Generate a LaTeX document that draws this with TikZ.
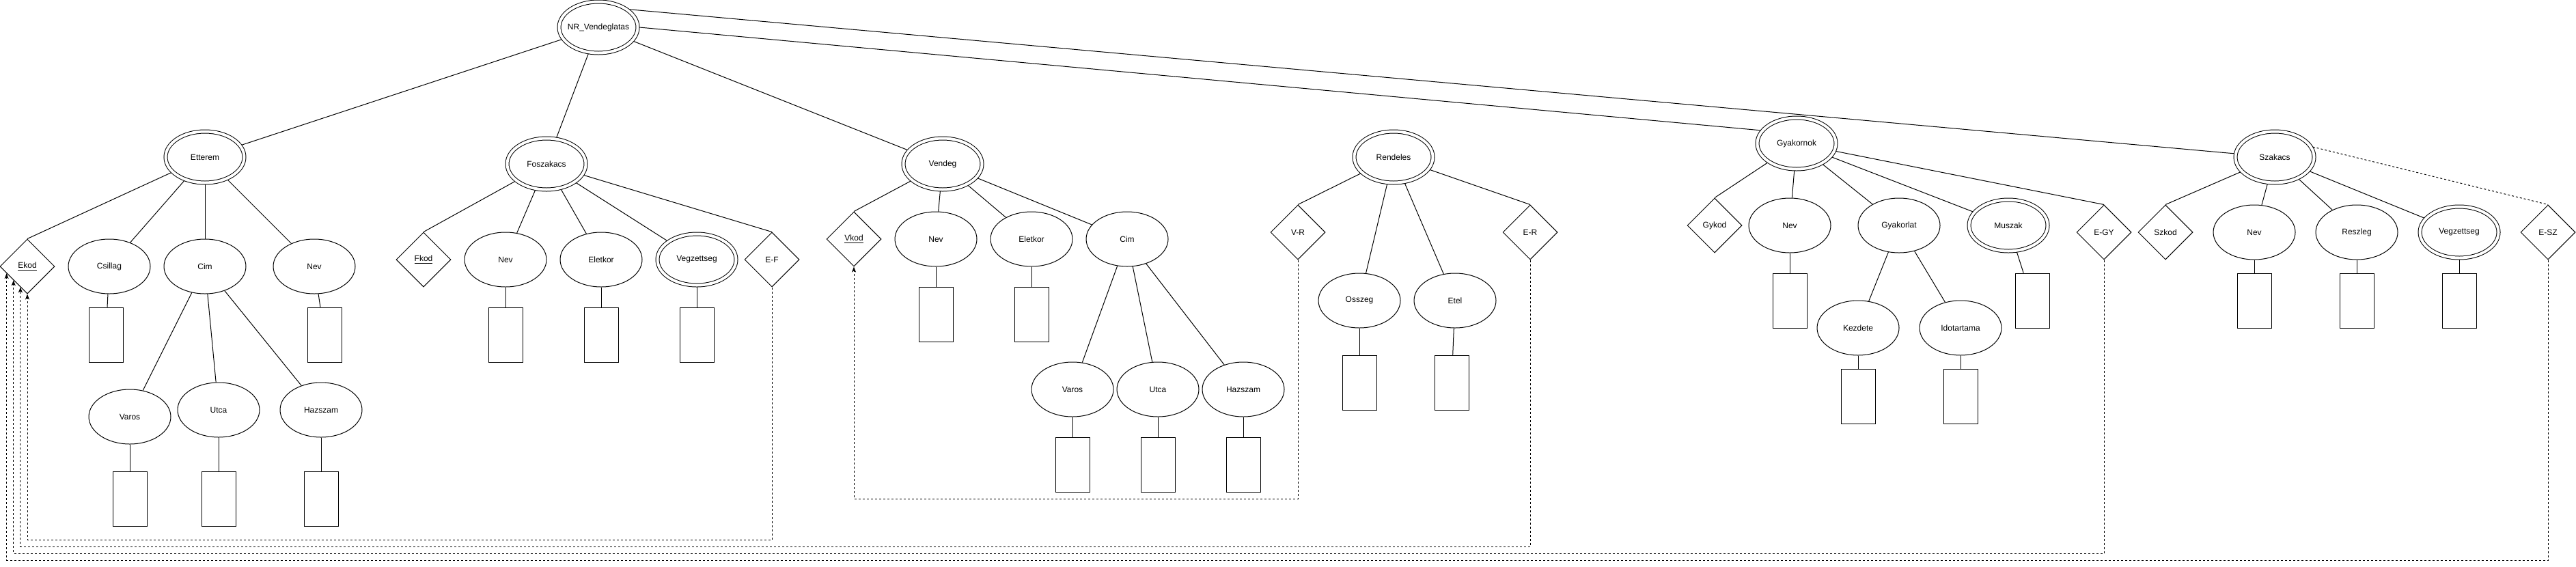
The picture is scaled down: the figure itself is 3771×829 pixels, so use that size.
\documentclass[tikz,border=0pt]{standalone}
\usepackage{fontspec}
\setmainfont{Liberation Sans}
\usetikzlibrary{shapes.geometric,arrows.meta,calc}
\tikzset{
  entity/.style={ellipse, draw, double, double distance=3pt, minimum width=86.25pt, minimum height=56.25pt, inner sep=0pt, outer sep=1.9pt, font=\fontsize{9}{10}\selectfont},
  attrib/.style={ellipse, draw, minimum width=90pt, minimum height=60pt, inner sep=0pt, font=\fontsize{9}{10}\selectfont},
  rel/.style={diamond, draw, aspect=1, minimum width=60pt, minimum height=60pt, inner sep=0pt, font=\fontsize{9}{10}\selectfont},
  valbox/.style={rectangle, draw, minimum width=37.5pt, minimum height=60pt, inner sep=0pt},
  fklink/.style={dash pattern=on 2.25pt off 2.25pt},
  fkarrow/.style={fklink, -{Stealth[length=6pt, width=4.5pt, inset=1.5pt]}}
}
\begin{document}
\begin{tikzpicture}[x=0.75pt, y=-0.75pt, line width=0.75pt]
\useasboundingbox (0,0) rectangle (3771,829);
%\draw[gray!30] (0,0) rectangle (3771,829); %page frame
\node[entity] (nr) at (876,40) {\makebox[0pt]{NR\_Vendeglatas}};
% Etterem
\node[entity] (et) at (300,230) {Etterem};
\node[rel] (ekod) at (40,390) {\underline{Ekod}};
\node[attrib] (csillag) at (160,390) {Csillag};
\node[attrib] (etcim) at (300,390) {Cim};
\node[attrib] (etnev) at (460,390) {Nev};
\node[attrib] (etvaros) at (190,610) {Varos};
\node[attrib] (etutca) at (320,600) {Utca};
\node[attrib] (ethsz) at (470,600) {Hazszam};
\node[valbox] (csillag-v) at (155,490) {};
\node[valbox] (etnev-v) at (475,490) {};
\node[valbox] (etvaros-v) at (190,730) {};
\node[valbox] (etutca-v) at (320,730) {};
\node[valbox] (ethsz-v) at (470,730) {};
% Foszakacs
\node[entity] (fo) at (800,240) {Foszakacs};
\node[rel] (fkod) at (620,380) {\underline{Fkod}};
\node[attrib] (fonev) at (740,380) {Nev};
\node[attrib] (foelet) at (880,380) {Eletkor};
\node[entity] (fovegz) at (1020,380) {Vegzettseg};
\node[rel] (ef) at (1130,380) {E-F};
\node[valbox] (fonev-v) at (740,490) {};
\node[valbox] (foelet-v) at (880,490) {};
\node[valbox] (fovegz-v) at (1020,490) {};
% Vendeg
\node[entity] (ve) at (1380,240) {Vendeg};
\node[rel] (vkod) at (1250,350) {\underline{Vkod}};
\node[attrib] (venev) at (1370,350) {Nev};
\node[attrib] (veelet) at (1510,350) {Eletkor};
\node[attrib] (vecim) at (1650,350) {Cim};
\node[attrib] (vevaros) at (1570,570) {Varos};
\node[attrib] (veutca) at (1695,570) {Utca};
\node[attrib] (vehsz) at (1820,570) {Hazszam};
\node[valbox] (venev-v) at (1370,460) {};
\node[valbox] (veelet-v) at (1510,460) {};
\node[valbox] (vevaros-v) at (1570,680) {};
\node[valbox] (veutca-v) at (1695,680) {};
\node[valbox] (vehsz-v) at (1820,680) {};
% Rendeles
\node[entity] (re) at (2040,230) {Rendeles};
\node[rel] (vr) at (1900,340) {V-R};
\node[attrib] (osszeg) at (1990,440) {Osszeg};
\node[attrib] (etel) at (2130,440) {Etel};
\node[rel] (er) at (2240,340) {E-R};
\node[valbox] (osszeg-v) at (1990,560) {};
\node[valbox] (etel-v) at (2125,560) {};
% Gyakornok
\node[entity] (gy) at (2630,210) {Gyakornok};
\node[rel] (gykod) at (2510,330) {Gykod};
\node[attrib] (gynev) at (2620,330) {Nev};
\node[attrib] (gyak) at (2780,330) {Gyakorlat};
\node[entity] (muszak) at (2940,330) {Muszak};
\node[rel] (egy) at (3080,340) {E-GY};
\node[attrib] (kezd) at (2720,480) {Kezdete};
\node[attrib] (idot) at (2870,480) {Idotartama};
\node[valbox] (gynev-v) at (2620,440) {};
\node[valbox] (muszak-v) at (2975,440) {};
\node[valbox] (kezd-v) at (2720,580) {};
\node[valbox] (idot-v) at (2870,580) {};
% Szakacs
\node[entity] (sz) at (3330,230) {Szakacs};
\node[rel] (szkod) at (3170,340) {Szkod};
\node[attrib] (sznev) at (3300,340) {Nev};
\node[attrib] (reszleg) at (3450,340) {Reszleg};
\node[entity] (szvegz) at (3600,340) {Vegzettseg};
\node[rel] (esz) at (3730,340) {E-SZ};
\node[valbox] (sznev-v) at (3300,440) {};
\node[valbox] (reszleg-v) at (3450,440) {};
\node[valbox] (szvegz-v) at (3600,440) {};
% links
\draw (nr) -- (et);
\draw (nr) -- (fo);
\draw (nr) -- (ve);
\draw (nr.east) -- (gy.160);
\draw (nr.30) -- (sz.175);
\draw (et) -- (ekod.north);
\draw (et) -- (csillag);
\draw (et) -- (etcim);
\draw (et) -- (etnev);
\draw (etcim) -- (etvaros);
\draw (etcim) -- (etutca);
\draw (etcim) -- (ethsz);
\draw (csillag) -- (csillag-v);
\draw (etnev) -- (etnev-v);
\draw (etvaros) -- (etvaros-v);
\draw (etutca) -- (etutca-v);
\draw (ethsz) -- (ethsz-v);
\draw (fo) -- (fkod.north);
\draw (fo) -- (fonev);
\draw (fo) -- (foelet);
\draw (fo) -- (fovegz);
\draw (fo) -- (ef.north);
\draw (fonev) -- (fonev-v);
\draw (foelet) -- (foelet-v);
\draw (fovegz) -- (fovegz-v);
\draw (ve) -- (vkod.north);
\draw (ve) -- (venev);
\draw (ve) -- (veelet);
\draw (ve) -- (vecim);
\draw (vecim) -- (vevaros);
\draw (vecim) -- (veutca);
\draw (vecim) -- (vehsz);
\draw (venev) -- (venev-v);
\draw (veelet) -- (veelet-v);
\draw (vevaros) -- (vevaros-v);
\draw (veutca) -- (veutca-v);
\draw (vehsz) -- (vehsz-v);
\draw (re) -- (vr.north);
\draw (re) -- (osszeg);
\draw (re) -- (etel);
\draw (re) -- (er.north);
\draw (osszeg) -- (osszeg-v);
\draw (etel) -- (etel-v);
\draw (gy) -- (gykod.north);
\draw (gy) -- (gynev);
\draw (gy) -- (gyak);
\draw (gy) -- (muszak);
\draw (gy) -- (egy.north);
\draw (gyak) -- (kezd);
\draw (gyak) -- (idot);
\draw (gynev) -- (gynev-v);
\draw (muszak) -- (muszak-v);
\draw (kezd) -- (kezd-v);
\draw (idot) -- (idot-v);
\draw (sz) -- (szkod.north);
\draw (sz) -- (sznev);
\draw (sz) -- (reszleg);
\draw (sz) -- (szvegz);
\draw[fklink] (sz.15) -- (esz.north);
\draw (sznev) -- (sznev-v);
\draw (reszleg) -- (reszleg-v);
\draw (szvegz) -- (szvegz-v);
% foreign keys
\coordinate (busv) at (0,730);
\coordinate (bus1) at (0,790);
\coordinate (bus2) at (0,800);
\coordinate (bus3) at (0,810);
\coordinate (bus4) at (0,820);
\coordinate (ekodb) at ($(ekod.south)!0.25!(ekod.west)$);
\coordinate (ekodc) at ($(ekod.south)!0.5!(ekod.west)$);
\coordinate (ekodd) at ($(ekod.south)!0.75!(ekod.west)$);
\draw[fkarrow] (vr.south) -- (vr.south |- busv) -| (vkod.south);
\draw[fkarrow] (ef.south) -- (ef.south |- bus1) -| (ekod.south);
\draw[fkarrow] (er.south) -- (er.south |- bus2) -| (ekodb);
\draw[fkarrow] (egy.south) -- (egy.south |- bus3) -| (ekodc);
\draw[fkarrow] (esz.south) -- (esz.south |- bus4) -| (ekodd);
\end{tikzpicture}
\end{document}
